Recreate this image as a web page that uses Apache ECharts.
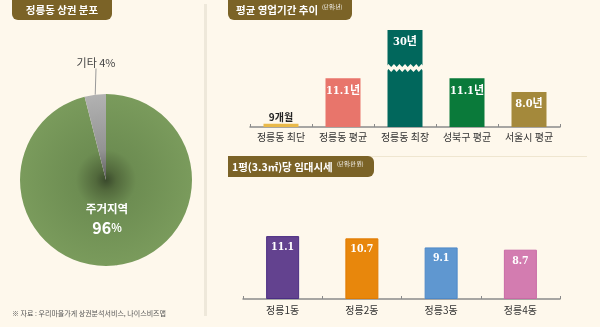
<!DOCTYPE html>
<html>
<head>
<meta charset="utf-8">
<script src="https://cdn.jsdelivr.net/npm/echarts@6/dist/echarts.min.js"></script>
<style>
html,body{margin:0;padding:0;background:#fef8ec;}
#c{width:600px;height:327px;}
</style>
</head>
<body>
<div id="c"></div>
<script>
// ---- data ----
var pieNames = ['주거지역', '기타'];
var pieValues = [96, 4];

var durCategories = ['정릉동 최단', '정릉동 평균', '정릉동 최장', '성북구 평균', '서울시 평균'];
var durValues = [0.75, 11.1, 30, 11.1, 8.0];
var durLabels = ['9개월', '11.1년', '30년', '11.1년', '8.0년'];

var rentCategories = ['정릉1동', '정릉2동', '정릉3동', '정릉4동'];
var rentValues = [11.1, 10.7, 9.1, 8.7];

// ---- styles ----
var durColors = ['#e9b949', '#e8756b', '#01675c', '#0a7a3a', '#a4893b'];
var rentColors = ['#63428f', '#e8870c', '#5f97d0', '#d37cb0'];
var rentBorders = ['#4b2e84', '#e07b00', '#4f89c8', '#c96aa5'];
var KR = "'Noto Sans CJK KR', sans-serif";
var NUM = "'DejaVu Serif Condensed', 'DejaVu Serif', 'Noto Sans CJK KR', serif";
var titleBg = '#7b6327';
var BG = '#fef8ec';

var chart = echarts.init(document.getElementById('c'));

var greenGrad = new echarts.graphic.RadialGradient(106, 180, 86, [
  {offset: 0, color: '#3a4a2c'},
  {offset: 0.12, color: '#52693c'},
  {offset: 0.35, color: '#6d8d52'},
  {offset: 1, color: '#7a9b5c'}
], true);
var grayGrad = new echarts.graphic.RadialGradient(106, 180, 86, [
  {offset: 0, color: '#5e5e5e'},
  {offset: 0.35, color: '#939393'},
  {offset: 1, color: '#b2b2b2'}
], true);

chart.setOption({
  backgroundColor: BG,
  animation: false,
  graphic: [
    {type: 'rect', shape: {x: 204, y: 4, width: 3, height: 312}, style: {fill: '#eee8da'}, z: 0},
    {type: 'line', shape: {x1: 228, y1: 156.5, x2: 587, y2: 156.5}, style: {stroke: '#efe6d0', lineWidth: 1}, z: 0},
    {type: 'rect', shape: {x: 12, y: 0, width: 100, height: 20, r: [0, 0, 6, 6]}, style: {fill: titleBg}, z: 5},
    {type: 'text', x: 62, y: 10, style: {text: '정릉동 상권 분포', fill: '#fff', font: 'bold 10.5px ' + KR, align: 'center', verticalAlign: 'middle'}, z: 6},
    {type: 'rect', shape: {x: 228, y: 0, width: 124, height: 20, r: [0, 0, 6, 6]}, style: {fill: titleBg}, z: 5},
    {type: 'text', x: 236, y: 10, style: {text: '평균 영업기간 추이', fill: '#fff', font: 'bold 10.5px ' + KR, verticalAlign: 'middle'}, z: 6},
    {type: 'text', x: 322, y: 7, style: {text: '(단위:년)', fill: '#fff', font: '5.5px ' + KR, verticalAlign: 'middle'}, z: 6},
    {type: 'rect', shape: {x: 228, y: 156, width: 146, height: 21, r: [0, 6, 6, 0]}, style: {fill: titleBg}, z: 5},
    {type: 'text', x: 232, y: 167, style: {text: '1평(3.3㎡)당 임대시세', fill: '#fff', font: 'bold 10.5px ' + KR, verticalAlign: 'middle'}, z: 6},
    {type: 'text', x: 337, y: 164, style: {text: '(단위:만 원)', fill: '#fff', font: '5.5px ' + KR, verticalAlign: 'middle'}, z: 6},
    {type: 'text', x: 12, y: 313, style: {text: '※ 자료 : 우리마을가게 상권분석서비스, 나이스비즈맵', fill: '#555', font: '7px ' + KR, verticalAlign: 'middle'}, z: 6}
  ],
  grid: [
    {left: 250, right: 40, top: 30, bottom: 200},
    {left: 243, right: 40, top: 231, bottom: 28}
  ],
  xAxis: [
    {type: 'category', gridIndex: 0, data: durCategories,
     axisLine: {lineStyle: {color: '#8a8a8a', width: 1.5}},
     axisTick: {show: true, inside: true, length: 3, lineStyle: {color: '#8a8a8a'}},
     axisLabel: {color: '#333', fontSize: 10, fontFamily: KR, margin: 5, interval: 0}},
    {type: 'category', gridIndex: 1, data: rentCategories,
     axisLine: {lineStyle: {color: '#8a8a8a', width: 1.5}},
     axisTick: {show: true, inside: true, length: 3, lineStyle: {color: '#8a8a8a'}},
     axisLabel: {color: '#333', fontSize: 10, fontFamily: KR, margin: 6, interval: 0}}
  ],
  yAxis: [
    {type: 'value', gridIndex: 0, min: 0, max: 30,
     axisLine: {show: false}, axisTick: {show: false}, axisLabel: {show: false}, splitLine: {show: false},
     breaks: [{start: 13, end: 22, gap: '5%'}],
     breakArea: {show: true, expandOnClick: false,
       itemStyle: {color: BG, borderColor: BG, borderWidth: 0, opacity: 1},
       zigzagAmplitude: 1.5, zigzagMinSpan: 2.5, zigzagMaxSpan: 3, zigzagZ: 100}},
    {type: 'value', gridIndex: 1, min: 0, max: 12,
     axisLine: {show: false}, axisTick: {show: false}, axisLabel: {show: false}, splitLine: {show: false}}
  ],
  series: [
    {type: 'pie', center: [106, 180], radius: 86, startAngle: 90, clockwise: true,
     silent: true,
     data: pieNames.map(function (n, i) {
       return {name: n, value: pieValues[i], itemStyle: {color: i === 0 ? greenGrad : grayGrad}};
     }),
     label: {
       formatter: function (p) {
         if (p.dataIndex === 0) return '{a|' + p.name + '}\n{b|' + p.value + '}{c|%}';
         return '{g|' + p.name + ' ' + p.value + '%}';
       },
       rich: {
         a: {color: '#fff', fontSize: 11.5, fontWeight: 'bold', fontFamily: KR, lineHeight: 18, align: 'center'},
         b: {color: '#fff', fontSize: 16, fontWeight: 'bold', fontFamily: KR, lineHeight: 20},
         c: {color: '#fff', fontSize: 11, fontWeight: 'bold', fontFamily: KR, lineHeight: 20},
         g: {color: '#444', fontSize: 11, fontFamily: KR}
       }
     },
     labelLine: {show: true, length: 22, length2: 0, lineStyle: {color: '#999', width: 1}},
     labelLayout: function (p) {
       if (p.dataIndex === 0) return {x: 107, y: 219, align: 'center', verticalAlign: 'middle'};
       return {x: 96, y: 63, align: 'center', verticalAlign: 'middle'};
     }
    },
    {type: 'bar', xAxisIndex: 0, yAxisIndex: 0, barWidth: 35,
     data: durValues.map(function (v, i) {
       return {value: v, itemStyle: {color: durColors[i]},
         label: i === 0 ? {position: 'top', distance: 2, color: '#222', fontFamily: KR, fontSize: 10, fontWeight: 'bold'} : {}};
     }),
     label: {show: true, position: 'insideTop', distance: 7, color: '#fff', fontSize: 11,
       fontWeight: 'bold', fontFamily: NUM,
       formatter: function (p) { return durLabels[p.dataIndex]; }}
    },
    {type: 'bar', xAxisIndex: 1, yAxisIndex: 1, barWidth: 33,
     data: rentValues.map(function (v, i) {
       return {value: v, itemStyle: {color: rentColors[i], borderColor: rentBorders[i], borderWidth: 1}};
     }),
     label: {show: true, position: 'insideTop', distance: 6, color: '#fff', fontSize: 10.5,
       fontWeight: 'bold', fontFamily: NUM,
       formatter: function (p) { return p.value.toFixed(1); }}
    }
  ]
});
</script>
</body>
</html>
